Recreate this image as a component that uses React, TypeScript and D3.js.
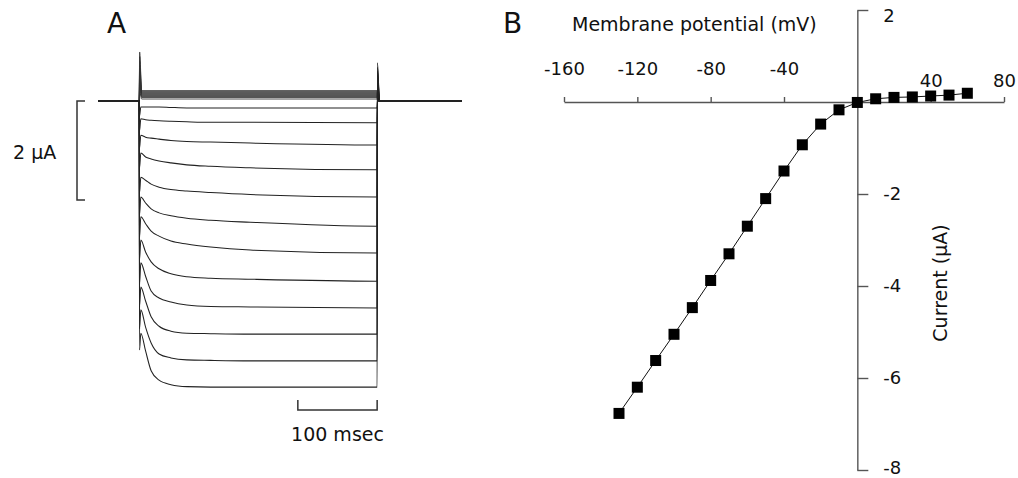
import React, { useEffect, useRef } from 'react'
import * as d3 from 'd3'

// ---- panel A: voltage-clamp current traces (µA) ----
const sampleTimes = [2, 8, 15, 25, 40, 60, 90, 140, 300] // msec after step onset
const inwardTraces = [
  [-0.12, -0.12, -0.12, -0.12, -0.13, -0.14, -0.14, -0.14, -0.14],
  [-0.36, -0.38, -0.39, -0.40, -0.41, -0.42, -0.43, -0.43, -0.44],
  [-0.69, -0.73, -0.75, -0.77, -0.80, -0.82, -0.83, -0.85, -0.89],
  [-1.05, -1.13, -1.17, -1.21, -1.25, -1.29, -1.32, -1.35, -1.39],
  [-1.54, -1.60, -1.68, -1.74, -1.79, -1.82, -1.85, -1.89, -1.94],
  [-1.94, -2.06, -2.18, -2.26, -2.32, -2.37, -2.41, -2.45, -2.53],
  [-2.34, -2.48, -2.63, -2.73, -2.83, -2.89, -2.95, -3.01, -3.07],
  [-2.81, -3.05, -3.25, -3.39, -3.49, -3.55, -3.58, -3.60, -3.64],
  [-3.27, -3.54, -3.84, -3.98, -4.06, -4.12, -4.15, -4.16, -4.18],
  [-3.76, -4.04, -4.36, -4.55, -4.65, -4.69, -4.70, -4.71, -4.71],
  [-4.22, -4.57, -4.89, -5.11, -5.19, -5.23, -5.24, -5.25, -5.25],
  [-4.69, -5.05, -5.45, -5.64, -5.73, -5.77, -5.78, -5.78, -5.78],
]
const inwardDips = [-0.3, -0.6, -0.95, -1.35, -1.85, -2.3, -2.75, -3.2, -3.7, -4.15, -4.6, -5.03]
const inwardOffPeaks = [0.05, 0.1, 0.15, 0.2, 0.26, 0.32, 0.38, 0.45, 0.52, 0.6, 0.68, 0.77]
const outwardLevels = [0.04, 0.07, 0.09, 0.11, 0.13, 0.15, 0.17, 0.19, 0.21]
const outwardPeaks = [0.2, 0.3, 0.4, 0.5, 0.6, 0.7, 0.8, 0.9, 0.99]
const timeRange = [-52, 407]
const currentBar = 2 // µA
const timeBar = 100 // msec

// ---- panel B: current-voltage relation ----
const voltages = [-130, -120, -110, -100, -90, -80, -70, -60, -50, -40, -30, -20, -10, 0, 10, 20, 30, 40, 50, 60]
const currents = [-6.77, -6.2, -5.62, -5.05, -4.47, -3.88, -3.3, -2.7, -2.1, -1.5, -0.93, -0.48, -0.17, -0.01, 0.07, 0.1, 0.11, 0.13, 0.15, 0.19]
const xTicks = [-160, -120, -80, -40, 40, 80]
const yTicks = [2, -2, -4, -6, -8]

const font = "'DejaVu Sans', sans-serif"

const App = () => {
  const ref = useRef(null)

  useEffect(() => {
    const svg = d3.select(ref.current)
    svg.selectAll('*').remove()

    // ---------- A ----------
    const xA = d3.scaleLinear().domain(timeRange).range([98, 462])
    const yA = d3.scaleLinear().domain([0, -2]).range([101, 200])
    const trace = d3.line<[number, number]>()
      .x(d => xA(d[0]))
      .y(d => yA(d[1]))
      .curve(d3.curveMonotoneX)

    const gA = svg.append('g')
    outwardLevels.forEach((lv, i) => {
      const pts: [number, number][] = [
        [timeRange[0], 0], [0, 0], [0.5, outwardPeaks[i]], [3, lv], [300, lv], [300.6, 0], [timeRange[1], 0],
      ]
      gA.append('path').attr('d', trace(pts)).attr('fill', 'none')
        .attr('stroke', '#333').attr('stroke-width', 0.85)
    })
    inwardTraces.forEach((tr, i) => {
      const pts: [number, number][] = [[timeRange[0], 0], [0, 0], [0.4, inwardDips[i]]]
      sampleTimes.forEach((t, j) => pts.push([t, tr[j]]))
      pts.push([300.4, inwardOffPeaks[i]], [303, 0], [timeRange[1], 0])
      gA.append('path').attr('d', trace(pts)).attr('fill', 'none')
        .attr('stroke', '#222').attr('stroke-width', 1.05)
    })

    // scale bars
    const barX = 77
    gA.append('path')
      .attr('d', `M${barX + 8},${yA(0)}H${barX}V${yA(-currentBar)}H${barX + 8}`)
      .attr('fill', 'none').attr('stroke', '#333').attr('stroke-width', 1.5)
    gA.append('text').attr('x', 13).attr('y', 159)
      .attr('font-family', font).attr('font-size', 19).attr('fill', '#111')
      .text(`${currentBar} µA`)
    const barY = 410
    gA.append('path')
      .attr('d', `M${xA(300 - timeBar)},${barY - 10}V${barY}H${xA(300)}V${barY - 10}`)
      .attr('fill', 'none').attr('stroke', '#333').attr('stroke-width', 1.5)
    gA.append('text').attr('x', (xA(300 - timeBar) + xA(300)) / 2).attr('y', 441)
      .attr('text-anchor', 'middle')
      .attr('font-family', font).attr('font-size', 19).attr('fill', '#111')
      .text(`${timeBar} msec`)
    svg.append('text').attr('x', 107).attr('y', 33)
      .attr('font-family', font).attr('font-size', 28).attr('fill', '#111').text('A')

    // ---------- B ----------
    const xB = d3.scaleLinear().domain([-160, 80]).range([564, 1004])
    const yB = d3.scaleLinear().domain([-8, 2]).range([470, 10])

    const xAxis = svg.append('g')
      .attr('transform', `translate(0,${yB(0)})`)
      .call(d3.axisTop(xB).tickValues(xTicks).tickSize(5).tickSizeOuter(0).tickPadding(22).tickFormat(d => String(d)))
    xAxis.selectAll('.tick text').filter(d => d > 0).attr('y', -15)

    const yAxis = svg.append('g')
      .attr('transform', `translate(${xB(0)},0)`)
      .call(d3.axisRight(yB).tickValues(yTicks).tickSize(11).tickSizeOuter(0).tickPadding(15).tickFormat(d => String(d)))
    yAxis.selectAll('.tick text').filter(d => d === 2).attr('dy', '0.64em')
    yAxis.selectAll('.tick text').filter(d => d === -8).attr('dy', '0.2em')

    ;[xAxis, yAxis].forEach(ax => {
      ax.attr('font-family', font).attr('font-size', 18)
      ax.selectAll('.domain').attr('stroke', '#555').attr('stroke-width', 1.4)
      ax.selectAll('.tick line').attr('stroke', '#555').attr('stroke-width', 1.4)
      ax.selectAll('.tick text').attr('fill', '#111')
    })

    svg.append('text').attr('x', 572).attr('y', 31)
      .attr('font-family', font).attr('font-size', 19).attr('fill', '#111')
      .text('Membrane potential (mV)')
    svg.append('text')
      .attr('transform', 'translate(940,283) rotate(-90)')
      .attr('text-anchor', 'middle').attr('dy', '0.35em')
      .attr('font-family', font).attr('font-size', 19).attr('fill', '#111')
      .text('Current (µA)')
    svg.append('text').attr('x', 503).attr('y', 33)
      .attr('font-family', font).attr('font-size', 28).attr('fill', '#111').text('B')

    const iv = voltages.map((v, i) => [v, currents[i]] as [number, number])
    svg.append('path')
      .attr('d', d3.line<[number, number]>().x(d => xB(d[0])).y(d => yB(d[1]))(iv))
      .attr('fill', 'none').attr('stroke', '#111').attr('stroke-width', 1)
    svg.append('g').selectAll('rect')
      .data(iv)
      .enter()
      .append('rect')
      .attr('x', d => xB(d[0]) - 5.5)
      .attr('y', d => yB(d[1]) - 5.5)
      .attr('width', 11)
      .attr('height', 11)
      .attr('fill', '#000')
  }, [])

  return (
    <svg ref={ref} width={1018} height={478}
      style={{ position: 'absolute', left: 0, top: 0, background: '#fff' }} />
  )
}

export default App
